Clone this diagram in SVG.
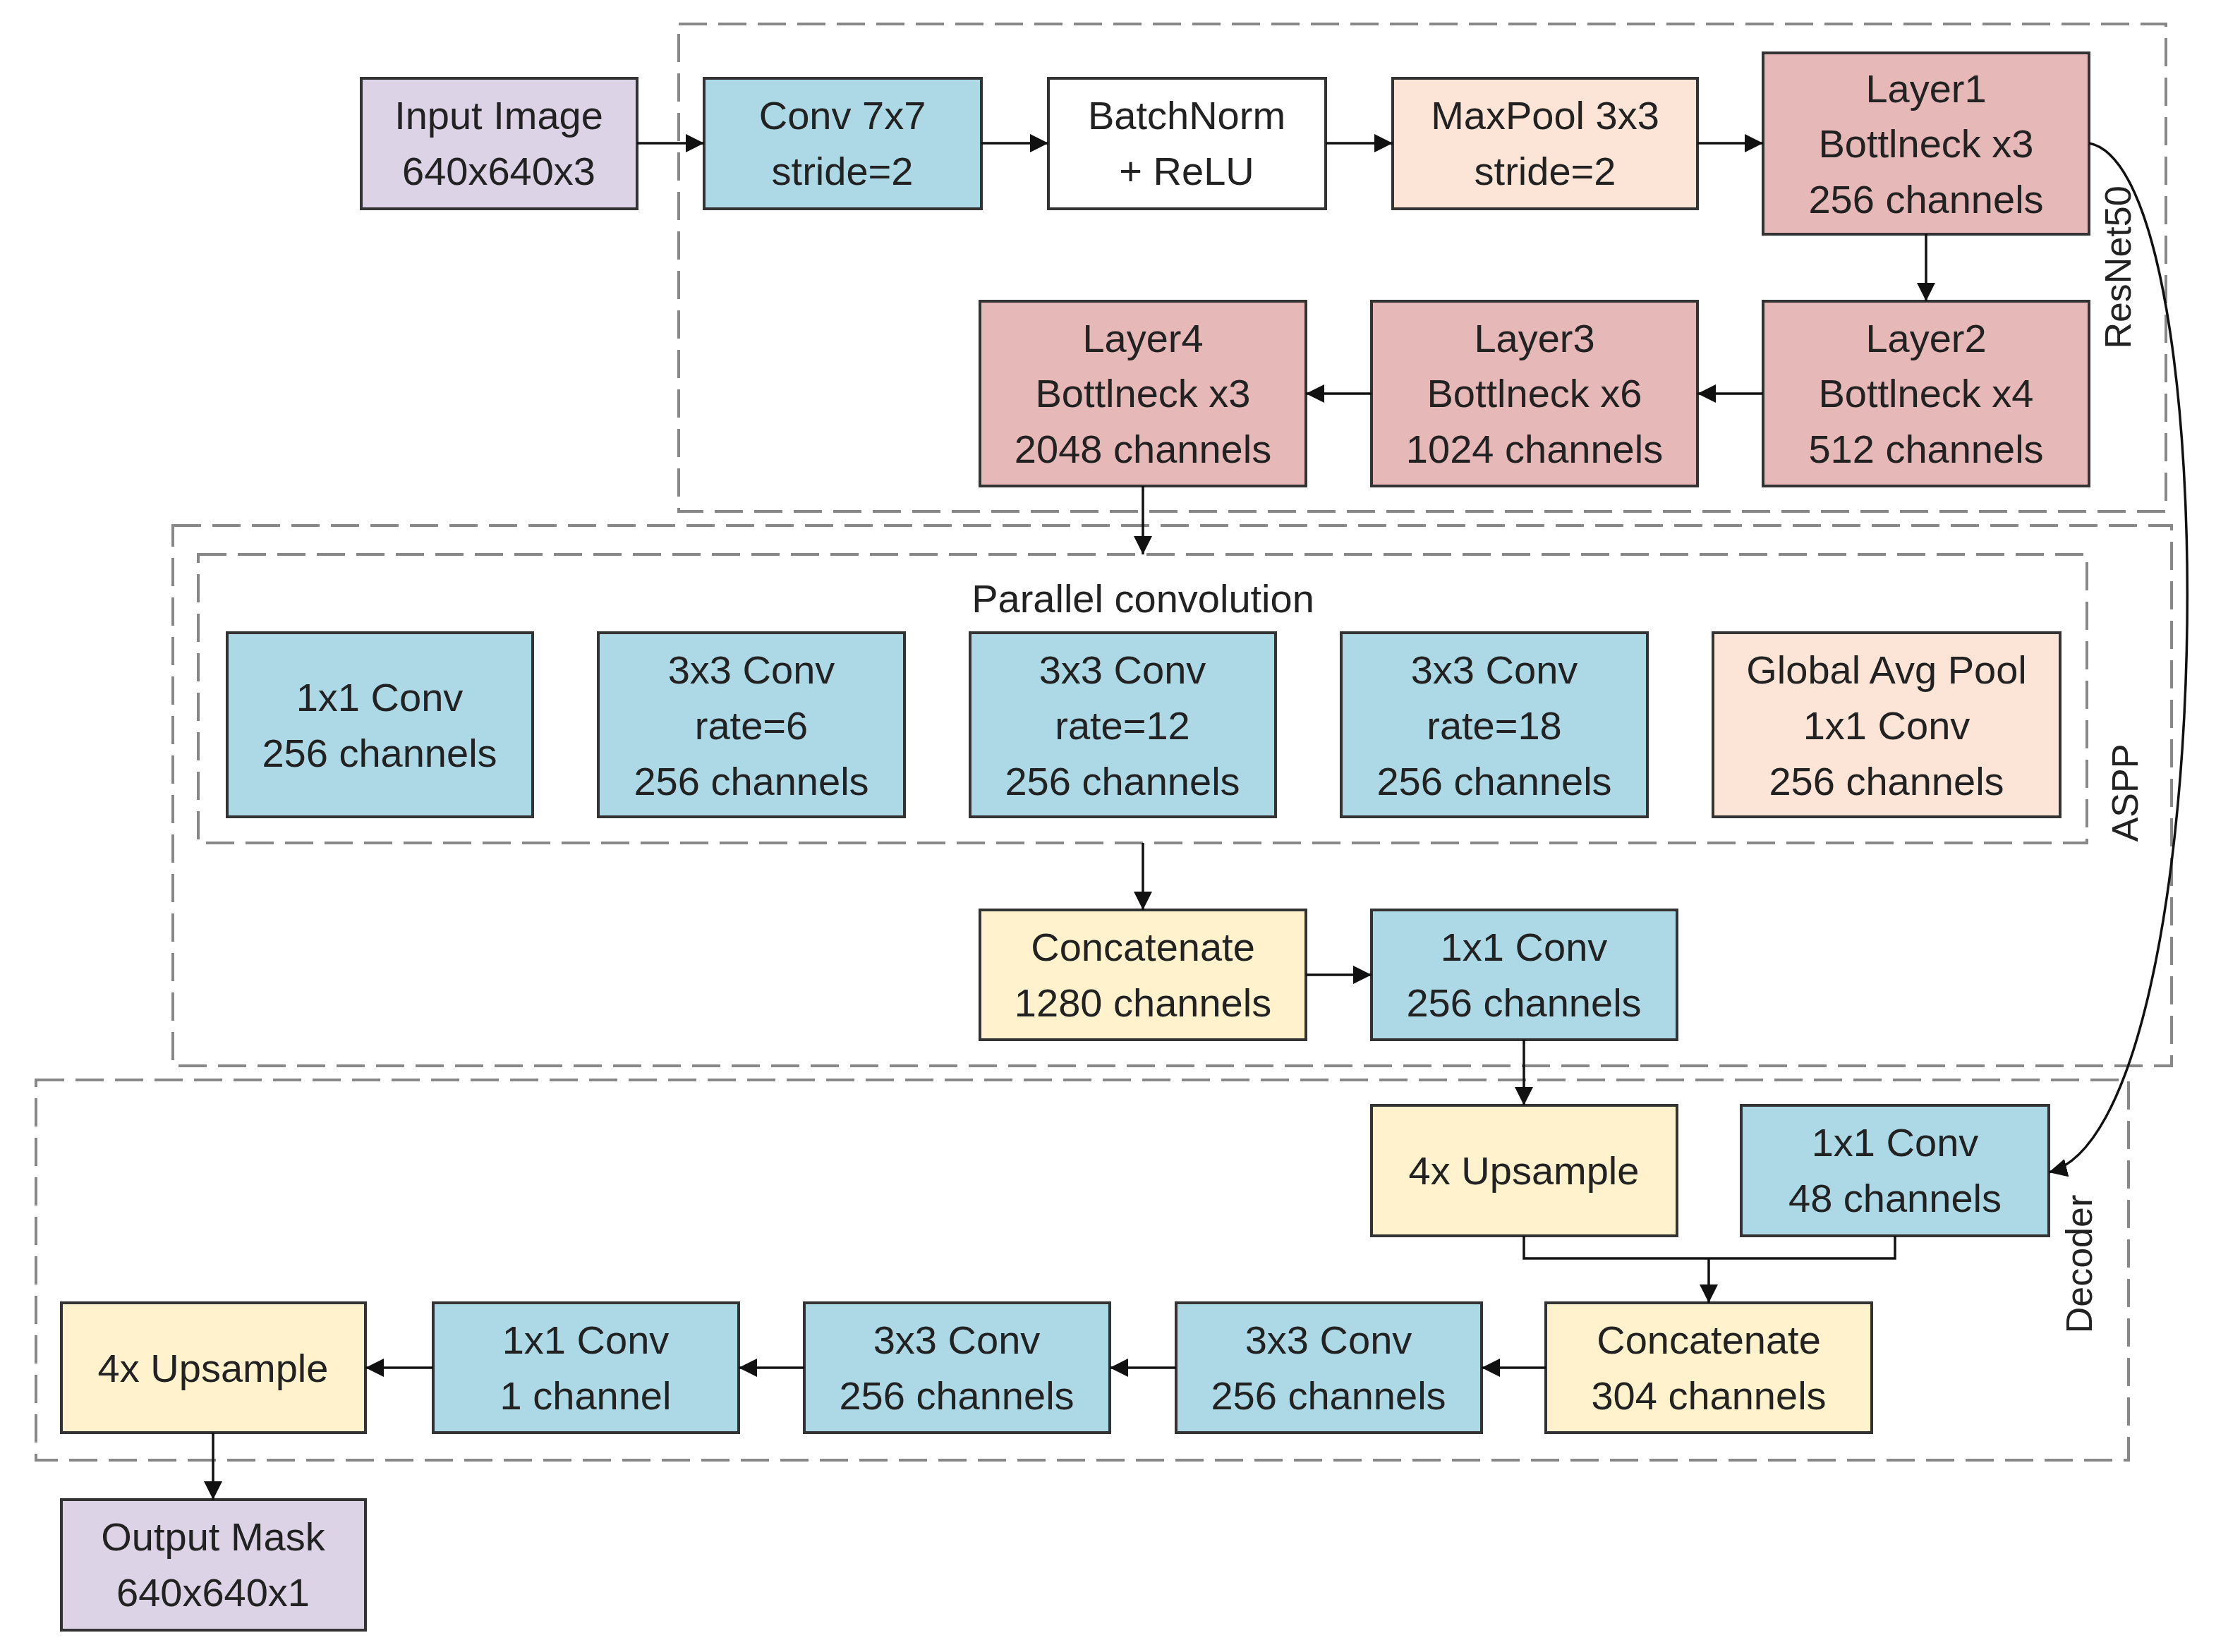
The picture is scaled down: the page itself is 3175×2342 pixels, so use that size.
<svg xmlns="http://www.w3.org/2000/svg" width="3175" height="2342" viewBox="0 0 3175 2342">
<style>
.n{stroke:#333;stroke-width:4}
.t{font-family:"Liberation Sans",Arial,sans-serif;font-size:56px;fill:#222;text-anchor:middle}
.d{fill:none;stroke:#888;stroke-width:4;stroke-dasharray:40 16}
.c{fill:none;stroke:#111;stroke-width:3.5}
.p{fill:#ddd3e6}.b{fill:#add8e6}.w{fill:#fff}.o{fill:#fce4d6}.r{fill:#e6b8b7}.y{fill:#fff2cc}
</style>
<defs><marker id="a" markerWidth="10" markerHeight="10" refX="9" refY="5" orient="auto" markerUnits="userSpaceOnUse" viewBox="0 0 10 10"><path d="M0,0L10,5L0,10z" fill="#111"/></marker>
<marker id="m" markerWidth="26" markerHeight="26" refX="26" refY="13" orient="auto" markerUnits="userSpaceOnUse"><path d="M0,0L26,13L0,26z" fill="#111"/></marker></defs>
<rect class="w" width="3175" height="2342"/>
<g id="groups">
<rect class="d" x="962" y="34" width="2108" height="691"/>
<text class="t" transform="translate(3020,379) rotate(-90)" style="font-size:52px">ResNet50</text>
<rect class="d" x="245" y="745" width="2833" height="766"/>
<text class="t" transform="translate(3030,1124) rotate(-90)" style="font-size:52px">ASPP</text>
<rect class="d" x="281" y="786" width="2677" height="409"/>
<text class="t" x="1620" y="868">Parallel convolution</text>
<rect class="d" x="51" y="1531" width="2966" height="539"/>
<text class="t" transform="translate(2965,1792) rotate(-90)" style="font-size:52px">Decoder</text>
</g>
<g id="input"><rect class="n p" x="512" y="111" width="391" height="185"/><text class="t" x="707" y="183">Input Image</text><text class="t" x="707" y="262">640x640x3</text></g>
<g id="conv7"><rect class="n b" x="998" y="111" width="393" height="185"/><text class="t" x="1194" y="183">Conv 7x7</text><text class="t" x="1194" y="262">stride=2</text></g>
<g id="bn"><rect class="n w" x="1486" y="111" width="393" height="185"/><text class="t" x="1682" y="183">BatchNorm</text><text class="t" x="1682" y="262">+ ReLU</text></g>
<g id="maxpool"><rect class="n o" x="1974" y="111" width="432" height="185"/><text class="t" x="2190" y="183">MaxPool 3x3</text><text class="t" x="2190" y="262">stride=2</text></g>
<g id="layer1"><rect class="n r" x="2499" y="75" width="462" height="257"/><text class="t" x="2730" y="145">Layer1</text><text class="t" x="2730" y="223">Bottlneck x3</text><text class="t" x="2730" y="302">256 channels</text></g>
<g id="layer2"><rect class="n r" x="2499" y="427" width="462" height="262"/><text class="t" x="2730" y="499">Layer2</text><text class="t" x="2730" y="577">Bottlneck x4</text><text class="t" x="2730" y="656">512 channels</text></g>
<g id="layer3"><rect class="n r" x="1944" y="427" width="462" height="262"/><text class="t" x="2175" y="499">Layer3</text><text class="t" x="2175" y="577">Bottlneck x6</text><text class="t" x="2175" y="656">1024 channels</text></g>
<g id="layer4"><rect class="n r" x="1389" y="427" width="462" height="262"/><text class="t" x="1620" y="499">Layer4</text><text class="t" x="1620" y="577">Bottlneck x3</text><text class="t" x="1620" y="656">2048 channels</text></g>
<g id="p1"><rect class="n b" x="322" y="897" width="433" height="261"/><text class="t" x="538" y="1008">1x1 Conv</text><text class="t" x="538" y="1087">256 channels</text></g>
<g id="p2"><rect class="n b" x="848" y="897" width="434" height="261"/><text class="t" x="1065" y="969">3x3 Conv</text><text class="t" x="1065" y="1048">rate=6</text><text class="t" x="1065" y="1127">256 channels</text></g>
<g id="p3"><rect class="n b" x="1375" y="897" width="433" height="261"/><text class="t" x="1591" y="969">3x3 Conv</text><text class="t" x="1591" y="1048">rate=12</text><text class="t" x="1591" y="1127">256 channels</text></g>
<g id="p4"><rect class="n b" x="1901" y="897" width="434" height="261"/><text class="t" x="2118" y="969">3x3 Conv</text><text class="t" x="2118" y="1048">rate=18</text><text class="t" x="2118" y="1127">256 channels</text></g>
<g id="p5"><rect class="n o" x="2428" y="897" width="492" height="261"/><text class="t" x="2674" y="969">Global Avg Pool</text><text class="t" x="2674" y="1048">1x1 Conv</text><text class="t" x="2674" y="1127">256 channels</text></g>
<g id="cat1280"><rect class="n y" x="1389" y="1290" width="462" height="184"/><text class="t" x="1620" y="1362">Concatenate</text><text class="t" x="1620" y="1441">1280 channels</text></g>
<g id="conv256"><rect class="n b" x="1944" y="1290" width="433" height="184"/><text class="t" x="2160" y="1362">1x1 Conv</text><text class="t" x="2160" y="1441">256 channels</text></g>
<g id="up1"><rect class="n y" x="1944" y="1567" width="433" height="185"/><text class="t" x="2160" y="1679">4x Upsample</text></g>
<g id="conv48"><rect class="n b" x="2468" y="1567" width="436" height="185"/><text class="t" x="2686" y="1639">1x1 Conv</text><text class="t" x="2686" y="1718">48 channels</text></g>
<g id="cat304"><rect class="n y" x="2191" y="1847" width="462" height="184"/><text class="t" x="2422" y="1919">Concatenate</text><text class="t" x="2422" y="1998">304 channels</text></g>
<g id="c3a"><rect class="n b" x="1667" y="1847" width="433" height="184"/><text class="t" x="1883" y="1919">3x3 Conv</text><text class="t" x="1883" y="1998">256 channels</text></g>
<g id="c3b"><rect class="n b" x="1140" y="1847" width="433" height="184"/><text class="t" x="1356" y="1919">3x3 Conv</text><text class="t" x="1356" y="1998">256 channels</text></g>
<g id="c1"><rect class="n b" x="614" y="1847" width="433" height="184"/><text class="t" x="830" y="1919">1x1 Conv</text><text class="t" x="830" y="1998">1 channel</text></g>
<g id="up2"><rect class="n y" x="87" y="1847" width="431" height="184"/><text class="t" x="302" y="1959">4x Upsample</text></g>
<g id="out"><rect class="n p" x="87" y="2126" width="431" height="185"/><text class="t" x="302" y="2198">Output Mask</text><text class="t" x="302" y="2277">640x640x1</text></g>
<g id="connectors">
<path class="c" marker-end="url(#m)" d="M903,203H998"/>
<path class="c" marker-end="url(#m)" d="M1391,203H1486"/>
<path class="c" marker-end="url(#m)" d="M1879,203H1974"/>
<path class="c" marker-end="url(#m)" d="M2406,203H2499"/>
<path class="c" marker-end="url(#m)" d="M2730,332V427"/>
<path class="c" marker-end="url(#m)" d="M2499,558H2406"/>
<path class="c" marker-end="url(#m)" d="M1944,558H1851"/>
<path class="c" marker-end="url(#m)" d="M1620,689V786"/>
<path class="c" marker-end="url(#m)" d="M1620,1195V1290"/>
<path class="c" marker-end="url(#m)" d="M1851,1382H1944"/>
<path class="c" marker-end="url(#m)" d="M2160,1474V1567"/>
<path class="c" d="M2160,1752V1784H2686V1752"/>
<path class="c" marker-end="url(#m)" d="M2422,1784V1847"/>
<path class="c" marker-end="url(#m)" d="M2191,1939H2100"/>
<path class="c" marker-end="url(#m)" d="M1667,1939H1573"/>
<path class="c" marker-end="url(#m)" d="M1140,1939H1047"/>
<path class="c" marker-end="url(#m)" d="M614,1939H518"/>
<path class="c" marker-end="url(#m)" d="M302,2031V2126"/>
<path class="c" marker-end="url(#m)" d="M2961,203C3160,240 3150,1600 2904,1662"/>
</g>
</svg>
